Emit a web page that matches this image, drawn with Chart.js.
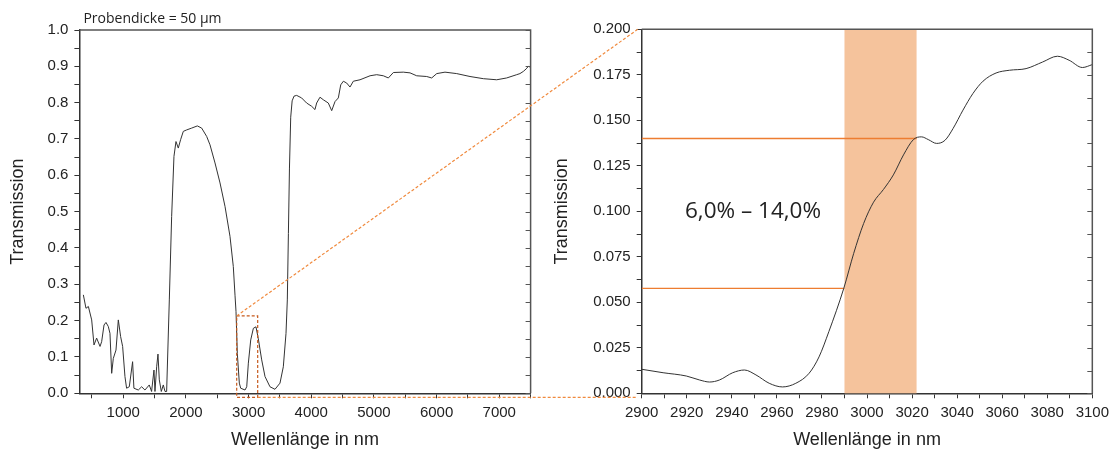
<!DOCTYPE html>
<html>
<head>
<meta charset="utf-8">
<script src="https://cdn.jsdelivr.net/npm/chart.js@4.4.1/dist/chart.umd.min.js"></script>
<style>
  html, body { margin: 0; padding: 0; background: #fff; }
  #wrap { position: relative; width: 1115px; height: 451px; }
  #left { position: absolute; left: 0; top: 0; }
  #right { position: absolute; left: 545px; top: 0; }
  #links { position: absolute; left: 0; top: 0; pointer-events: none; }
</style>
</head>
<body>
<div id="wrap">
  <canvas id="left" width="545" height="451"></canvas>
  <canvas id="right" width="570" height="451"></canvas>
  <canvas id="links" width="1115" height="451"></canvas>
</div>
<script>
// full spectrum, 50 µm sample
const leftWavelengths = [363, 405, 443, 496, 533, 575, 629, 655, 693, 724, 761, 788, 815, 841, 884, 921, 958, 990,
  1027, 1053, 1096, 1149, 1170, 1240, 1293, 1346, 1415, 1452, 1490, 1506, 1533, 1554, 1575, 1607, 1639, 1666, 1692,
  1735, 1772, 1809, 1841, 1878, 1915, 1958, 2012, 2092, 2182, 2251, 2331, 2384, 2464, 2544, 2624, 2703, 2756, 2783,
  2799, 2820, 2852, 2874, 2943, 2970, 2996, 3034, 3076, 3118, 3155, 3209, 3262, 3341, 3421, 3501, 3554, 3597, 3618,
  3635, 3652, 3672, 3695, 3725, 3767, 3846, 3926, 4006, 4059, 4086, 4139, 4192, 4272, 4326, 4379, 4432, 4470, 4512,
  4565, 4618, 4671, 4778, 4938, 5044, 5150, 5230, 5310, 5469, 5576, 5682, 5842, 5922, 6002, 6134, 6321, 6533, 6746,
  6959, 7118, 7278, 7330, 7384, 7430, 7464, 7507];
const leftTransmission = [0.271, 0.234, 0.239, 0.202, 0.133, 0.152, 0.129, 0.142, 0.188, 0.195, 0.184, 0.165, 0.055,
  0.096, 0.119, 0.202, 0.156, 0.129, 0.046, 0.014, 0.018, 0.087, 0.014, 0.009, 0.018, 0.009, 0.023, 0.005, 0.064,
  0.005, 0.073, 0.108, 0.037, 0.005, 0.023, 0.005, 0.005, 0.257, 0.487, 0.652, 0.693, 0.675, 0.698, 0.721, 0.725,
  0.730, 0.736, 0.730, 0.707, 0.684, 0.634, 0.579, 0.514, 0.432, 0.349, 0.270, 0.225, 0.110, 0.028, 0.014, 0.009,
  0.018, 0.083, 0.147, 0.179, 0.183, 0.150, 0.092, 0.046, 0.018, 0.011, 0.028, 0.073, 0.165, 0.257, 0.440, 0.620,
  0.760, 0.805, 0.818, 0.820, 0.813, 0.799, 0.790, 0.781, 0.799, 0.815, 0.808, 0.799, 0.778, 0.803, 0.813, 0.849,
  0.859, 0.854, 0.843, 0.859, 0.863, 0.874, 0.877, 0.874, 0.868, 0.883, 0.884, 0.882, 0.874, 0.872, 0.868, 0.880,
  0.884, 0.880, 0.872, 0.866, 0.863, 0.868, 0.877, 0.880, 0.886, 0.893, 0.900, 0.897];

// zoomed section 2900-3100 nm
const rightWavelengths = [2900, 2909.5, 2919.8, 2925.7, 2930.1, 2934.5, 2940.4, 2945.6, 2950.7, 2956.6, 2962.5, 2968.4,
  2974.3, 2978.7, 2983.1, 2989.7, 2994.1, 2998.5, 3002.9, 3007.3, 3011.7, 3016.2, 3020.6, 3024.2, 3027.2, 3030.9,
  3034.6, 3038.2, 3042.6, 3047.0, 3051.5, 3057.3, 3063.2, 3070.6, 3077.9, 3084.5, 3089.7, 3095.6, 3100];
const rightTransmission = [0.0132, 0.0113, 0.0095, 0.0073, 0.0062, 0.0073, 0.0113, 0.0128, 0.0101, 0.0055, 0.0035,
  0.0055, 0.0110, 0.0200, 0.0340, 0.0577, 0.0769, 0.0933, 0.1050, 0.1120, 0.1200, 0.1310, 0.1394, 0.1409, 0.1394,
  0.1373, 0.1390, 0.1455, 0.1556, 0.1647, 0.1715, 0.1760, 0.1775, 0.1784, 0.1820, 0.1852, 0.1830, 0.1790, 0.1806];

const leftXLabels = [1000, 2000, 3000, 4000, 5000, 6000, 7000];
const leftYLabels = [0, 0.1, 0.2, 0.3, 0.4, 0.5, 0.6, 0.7, 0.8, 0.9, 1.0];
const rightXLabels = [2900, 2920, 2940, 2960, 2980, 3000, 3020, 3040, 3060, 3080, 3100];
const rightYLabels = [0, 0.025, 0.05, 0.075, 0.1, 0.125, 0.15, 0.175, 0.2];

const bandRange = [2990, 3022];        // highlighted window
const levelLow = 0.0577, levelHigh = 0.14;
const zoomBox = [2810, 3145, -0.011, 0.213];  // x0, x1, y0, y1 in left chart units
const bandText = '6,0% – 14,0%';

const ink = '#222';
const orange = '#ed7d31';
const tickFont = { family: 'Liberation Sans, Arial, sans-serif', size: 15 };
const titleFont = { family: 'Liberation Sans, Arial, sans-serif', size: 18 };

function makeTicks(min, max, step) {
  const t = [];
  for (let v = min; v <= max + step / 1000; v += step) t.push(+v.toFixed(6));
  return t;
}
const has = (arr, v) => arr.some(a => Math.abs(a - v) < 1e-6);

function axis(min, max, step, labels, fmt, extra) {
  return Object.assign({
    type: 'linear', min, max,
    afterBuildTicks: s => { s.ticks = makeTicks(min, max, step).map(v => ({ value: v })); },
    ticks: {
      autoSkip: false, maxRotation: 0, color: ink, font: tickFont, padding: 6,
      callback: v => has(labels, v) ? fmt(v) : ''
    },
    grid: { drawOnChartArea: false, drawTicks: true, tickLength: 5, tickColor: '#333', tickWidth: 1 },
    border: { display: true, color: '#333', width: 1.5 }
  }, extra);
}

// top/right frame with inward ticks on the right side
const frame = {
  id: 'frame',
  afterDraw(chart) {
    const { ctx, chartArea: a, scales: { y } } = chart;
    ctx.save();
    ctx.strokeStyle = '#555';
    ctx.lineWidth = 1.5;
    ctx.beginPath();
    ctx.moveTo(a.left, a.top);
    ctx.lineTo(a.right, a.top);
    ctx.lineTo(a.right, a.bottom);
    ctx.stroke();
    ctx.lineWidth = 1;
    ctx.beginPath();
    y.ticks.forEach(t => {
      const py = Math.round(y.getPixelForValue(t.value)) + 0.5;
      ctx.moveTo(a.right, py);
      ctx.lineTo(a.right - 5, py);
    });
    ctx.stroke();
    ctx.restore();
  }
};

const leftExtras = {
  id: 'leftExtras',
  afterDraw(chart) {
    const { ctx, chartArea: a, scales: { x, y } } = chart;
    ctx.save();
    ctx.fillStyle = ink;
    ctx.font = '14px "Open Sans", sans-serif';
    ctx.textBaseline = 'alphabetic';
    ctx.fillText('Probendicke = 50 µm', a.left + 4, a.top - 7);
    // zoom rectangle
    ctx.strokeStyle = '#c65a1e';
    ctx.lineWidth = 1.2;
    ctx.setLineDash([3, 2]);
    const x0 = x.getPixelForValue(zoomBox[0]), x1 = x.getPixelForValue(zoomBox[1]);
    const y0 = y.getPixelForValue(zoomBox[2]), y1 = y.getPixelForValue(zoomBox[3]);
    ctx.strokeRect(x0, y1, x1 - x0, y0 - y1);
    ctx.restore();
  }
};

const rightExtras = {
  id: 'rightExtras',
  beforeDatasetsDraw(chart) {
    const { ctx, chartArea: a, scales: { x } } = chart;
    const x0 = x.getPixelForValue(bandRange[0]), x1 = x.getPixelForValue(bandRange[1]);
    ctx.save();
    ctx.fillStyle = '#f5c39c';
    ctx.fillRect(x0, a.top, x1 - x0, a.bottom - a.top);
    ctx.restore();
  },
  afterDatasetsDraw(chart) {
    const { ctx, scales: { x, y } } = chart;
    ctx.save();
    ctx.fillStyle = ink;
    ctx.font = '22.5px "Open Sans", sans-serif';
    ctx.textAlign = 'center';
    ctx.textBaseline = 'middle';
    ctx.fillText(bandText, x.getPixelForValue(2949.4), y.getPixelForValue(0.1));
    ctx.restore();
  }
};

const leftChart = new Chart(document.getElementById('left'), {
  type: 'line',
  data: {
    datasets: [{
      data: leftWavelengths.map((w, i) => ({ x: w, y: leftTransmission[i] })),
      borderColor: '#333', borderWidth: 1, pointRadius: 0, tension: 0, fill: false
    }]
  },
  options: {
    responsive: false, devicePixelRatio: 1, animation: false,
    layout: { padding: { left: 3, top: 30, right: 14.4, bottom: 0 } },
    plugins: { legend: { display: false }, tooltip: { enabled: false } },
    scales: {
      x: axis(300, 7500, 500, leftXLabels, v => String(v), {
        position: 'bottom',
        afterBuildTicks: s => { s.ticks = makeTicks(500, 7500, 500).map(v => ({ value: v })); },
        afterFit: s => { s.height = 57.7; },
        title: { display: true, text: 'Wellenlänge in nm', color: ink, font: titleFont, padding: { top: 0, bottom: 0 } }
      }),
      y: axis(0, 1, 0.05, leftYLabels, v => v.toFixed(1), {
        position: 'left',
        afterFit: s => { s.width = 76.4; },
        title: { display: true, text: 'Transmission', color: ink, font: titleFont, padding: { top: 4, bottom: 0 } }
      })
    }
  },
  plugins: [frame, leftExtras]
});

const rightChart = new Chart(document.getElementById('right'), {
  type: 'line',
  data: {
    datasets: [{
      data: rightWavelengths.map((w, i) => ({ x: w, y: rightTransmission[i] })),
      borderColor: '#333', borderWidth: 1, pointRadius: 0, cubicInterpolationMode: 'monotone', fill: false, order: 1
    }, {
      data: [{ x: 2900, y: levelHigh }, { x: bandRange[1], y: levelHigh }],
      borderColor: orange, borderWidth: 1.6, pointRadius: 0, order: 2
    }, {
      data: [{ x: 2900, y: levelLow }, { x: bandRange[0], y: levelLow }],
      borderColor: orange, borderWidth: 1.3, pointRadius: 0, order: 2
    }]
  },
  options: {
    responsive: false, devicePixelRatio: 1, animation: false,
    layout: { padding: { left: 2, top: 29.3, right: 20, bottom: 0 } },
    plugins: { legend: { display: false }, tooltip: { enabled: false } },
    scales: {
      x: axis(2900, 3100, 10, rightXLabels, v => String(v), {
        position: 'bottom',
        afterFit: s => { s.height = 57.7; },
        title: { display: true, text: 'Wellenlänge in nm', color: ink, font: titleFont, padding: { top: 0, bottom: 0 } }
      }),
      y: axis(0, 0.2, 0.0125, rightYLabels, v => v.toFixed(3), {
        position: 'left',
        afterFit: s => { s.width = 94.7; },
        title: { display: true, text: 'Transmission', color: ink, font: titleFont, padding: { top: 4, bottom: 0 } }
      })
    }
  },
  plugins: [frame, rightExtras]
});

// dashed connectors between the two plots
(function drawLinks() {
  const ctx = document.getElementById('links').getContext('2d');
  const lx = leftChart.scales.x, ly = leftChart.scales.y;
  const rx = rightChart.scales.x, ry = rightChart.scales.y;
  const off = 545;
  const bx0 = lx.getPixelForValue(zoomBox[0]), bx1 = lx.getPixelForValue(zoomBox[1]);
  const by0 = ly.getPixelForValue(zoomBox[2]), by1 = ly.getPixelForValue(zoomBox[3]);
  const rLeft = off + rx.getPixelForValue(2900) - 4;
  ctx.save();
  ctx.strokeStyle = '#f08a3e';
  ctx.lineWidth = 1.2;
  ctx.setLineDash([3, 2]);
  ctx.beginPath();
  ctx.moveTo(bx0, by1);
  ctx.lineTo(rLeft, ry.getPixelForValue(0.2));
  ctx.moveTo(bx1, by0);
  ctx.lineTo(rLeft, by0);
  ctx.stroke();
  ctx.restore();
})();
</script>
</body>
</html>
